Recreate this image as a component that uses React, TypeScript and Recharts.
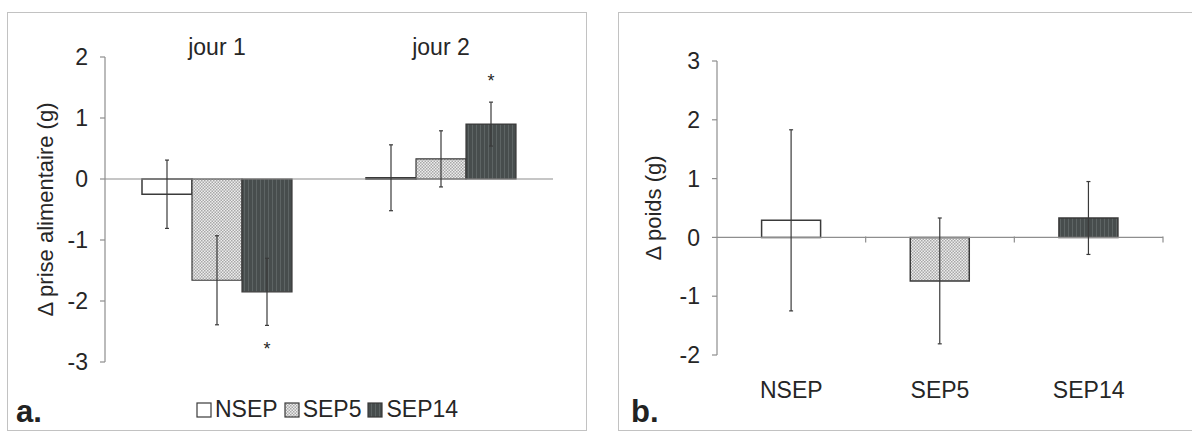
import { BarChart, Bar, XAxis, YAxis, ErrorBar, ReferenceLine, Legend, LabelList, Cell } from "recharts"

// panneau a : prise alimentaire par jour
const JOURS = ["jour 1", "jour 2"]
const NSEP = [-0.25, 0.02]
const NSEP_ERR = [0.56, 0.54]
const SEP5 = [-1.66, 0.33]
const SEP5_ERR = [0.73, 0.46]
const SEP14 = [-1.85, 0.9]
const SEP14_ERR = [0.55, 0.36]
const SEP14_STAR = [-2.72, 1.68]
const TICKS_A = [-3, -2, -1, 0, 1, 2]

// panneau b : poids
const GROUPS = ["NSEP", "SEP5", "SEP14"]
const POIDS = [0.29, -0.74, 0.33]
const POIDS_ERR = [1.54, 1.07, 0.62]
const TICKS_B = [-2, -1, 0, 1, 2, 3]

const FILLS: Record<string, string> = {
  NSEP: "#ffffff",
  SEP5: "url(#pat-dots)",
  SEP14: "url(#pat-stripes)",
}

const TEXT = "#262626"
const AXIS = "#8e8e8e"
const OUTLINE = "#3a3a3a"
const FONT = '"Liberation Sans", Arial, sans-serif'
const FS = 23

const dataA = JOURS.map((jour, i) => ({
  jour,
  nsep: NSEP[i],
  nsepErr: NSEP_ERR[i],
  sep5: SEP5[i],
  sep5Err: SEP5_ERR[i],
  sep14: SEP14[i],
  sep14Err: SEP14_ERR[i],
  star: SEP14_STAR[i],
}))

const dataB = GROUPS.map((group, i) => ({
  group,
  poids: POIDS[i],
  err: POIDS_ERR[i],
}))

// astérisque placé grâce à la géométrie de la barre
const renderStar = (props: any) => {
  const vb = props.viewBox ?? props
  const i = props.index ?? 0
  const v = SEP14[i]
  const s = SEP14_STAR[i]
  const top = Math.min(vb.y, vb.y + vb.height)
  const bottom = Math.max(vb.y, vb.y + vb.height)
  const zero = v >= 0 ? bottom : top
  const perUnit = (bottom - top) / Math.abs(v)
  const cy = zero - s * perUnit
  return (
    <text x={vb.x + vb.width / 2} y={cy + 10} textAnchor="middle" fontSize={18} fill={TEXT}>
      *
    </text>
  )
}

const ZeroLine = (p: any) => {
  const { x1, x2, y1 } = p
  const step = (x2 - x1) / GROUPS.length
  return (
    <g>
      <line x1={x1} x2={x2} y1={y1} y2={y1} stroke={AXIS} strokeWidth={1.2} />
      {GROUPS.map((_, i) => (
        <line key={i} x1={x1 + step * (i + 1)} x2={x1 + step * (i + 1)} y1={y1 - 1} y2={y1 + 5} stroke={AXIS} strokeWidth={1.2} />
      ))}
    </g>
  )
}

const LegendA = () => (
  <div style={{ display: "flex", alignItems: "center", fontFamily: FONT, fontSize: FS, color: TEXT }}>
    {GROUPS.map((g) => (
      <span key={g} style={{ display: "flex", alignItems: "center", marginRight: 6 }}>
        <svg width={17} height={16} style={{ marginRight: 2 }}>
          <rect x={1} y={1} width={14} height={14} fill={FILLS[g]} stroke={OUTLINE} strokeWidth={1.2} />
        </svg>
        <span>{g}</span>
      </span>
    ))}
  </div>
)

const frame = (left: number, width: number) => ({
  position: "absolute" as const,
  left,
  top: 12,
  width,
  height: 419,
  border: "1.5px solid #c2c2c2",
  boxSizing: "border-box" as const,
})

const panelLetter = (left: number) => ({
  position: "absolute" as const,
  left,
  top: 396,
  fontFamily: FONT,
  fontSize: 31,
  fontWeight: 700,
  lineHeight: 1,
  color: "#222",
})

export default function App() {
  return (
    <div style={{ position: "absolute", left: 0, top: 0, width: 1192, height: 433, background: "#fff", fontFamily: FONT, overflow: "hidden" }}>
      <svg width={0} height={0} style={{ position: "absolute" }}>
        <defs>
          <pattern id="pat-dots" patternUnits="userSpaceOnUse" width={3} height={3}>
            <rect width={3} height={3} fill="#ededed" />
            <rect width={1.5} height={1.5} fill="#a8a8a8" />
            <rect x={1.5} y={1.5} width={1.5} height={1.5} fill="#a8a8a8" />
          </pattern>
          <pattern id="pat-stripes" patternUnits="userSpaceOnUse" width={4} height={4}>
            <rect width={4} height={4} fill="#474d4d" />
            <rect width={1} height={4} fill="#5d6464" />
          </pattern>
        </defs>
      </svg>

      <div style={frame(7, 580)} />
      <div style={frame(618, 580)} />

      <div style={{ position: "absolute", left: 0, top: 0 }}>
        <BarChart width={590} height={433} data={dataA} margin={{ top: 27, right: 37, bottom: 71, left: 5 }} barCategoryGap={37} barGap={0}>
          <XAxis dataKey="jour" orientation="top" axisLine={false} tickLine={false} tickSize={0} tickMargin={2} height={30} tick={{ fill: TEXT, fontSize: FS }} />
          <YAxis
            domain={[-3, 2]}
            ticks={TICKS_A}
            interval={0}
            width={100}
            axisLine={{ stroke: AXIS, strokeWidth: 1.2 }}
            tickLine={{ stroke: AXIS, strokeWidth: 1.2 }}
            tickSize={5}
            tickMargin={12}
            tick={{ fill: TEXT, fontSize: FS }}
            label={{ value: "Δ prise alimentaire (g)", angle: -90, position: "center", dx: -10, fill: TEXT, fontSize: 22 }}
          />
          <ReferenceLine y={0} stroke={AXIS} strokeWidth={1.2} />
          <Bar dataKey="nsep" fill={FILLS.NSEP} stroke={OUTLINE} strokeWidth={1.5} isAnimationActive={false}>
            <ErrorBar dataKey="nsepErr" width={2} stroke={OUTLINE} strokeWidth={1.2} direction="y" />
          </Bar>
          <Bar dataKey="sep5" fill={FILLS.SEP5} stroke={OUTLINE} strokeWidth={1.2} isAnimationActive={false}>
            <ErrorBar dataKey="sep5Err" width={2} stroke={OUTLINE} strokeWidth={1.2} direction="y" />
          </Bar>
          <Bar dataKey="sep14" fill={FILLS.SEP14} stroke={OUTLINE} strokeWidth={1.2} isAnimationActive={false}>
            <ErrorBar dataKey="sep14Err" width={2} stroke={OUTLINE} strokeWidth={1.2} direction="y" />
            <LabelList dataKey="star" content={renderStar} />
          </Bar>
          <Legend layout="horizontal" verticalAlign="middle" align="center" content={<LegendA />} wrapperStyle={{ left: 196, top: 396, width: "auto", height: "auto" }} />
        </BarChart>
      </div>

      <div style={{ position: "absolute", left: 600, top: 0 }}>
        <BarChart width={592} height={433} data={dataB} margin={{ top: 61, right: 29, bottom: 38, left: 17 }} barCategoryGap="30%">
          <XAxis dataKey="group" axisLine={false} tickLine={false} tickSize={0} tickMargin={27} height={40} tick={{ fill: TEXT, fontSize: FS }} />
          <YAxis
            domain={[-2, 3]}
            ticks={TICKS_B}
            interval={0}
            width={100}
            axisLine={{ stroke: AXIS, strokeWidth: 1.2 }}
            tickLine={{ stroke: AXIS, strokeWidth: 1.2 }}
            tickSize={5}
            tickMargin={12}
            tick={{ fill: TEXT, fontSize: FS }}
            label={{ value: "Δ poids (g)", angle: -90, position: "center", dx: -14, fill: TEXT, fontSize: 22 }}
          />
          <ReferenceLine y={0} shape={ZeroLine} />
          <Bar dataKey="poids" stroke={OUTLINE} strokeWidth={1.5} isAnimationActive={false}>
            {GROUPS.map((g) => (
              <Cell key={g} fill={FILLS[g]} />
            ))}
            <ErrorBar dataKey="err" width={2} stroke={OUTLINE} strokeWidth={1.2} direction="y" />
          </Bar>
        </BarChart>
      </div>

      <div style={panelLetter(16)}>a.</div>
      <div style={panelLetter(631)}>b.</div>
    </div>
  )
}
